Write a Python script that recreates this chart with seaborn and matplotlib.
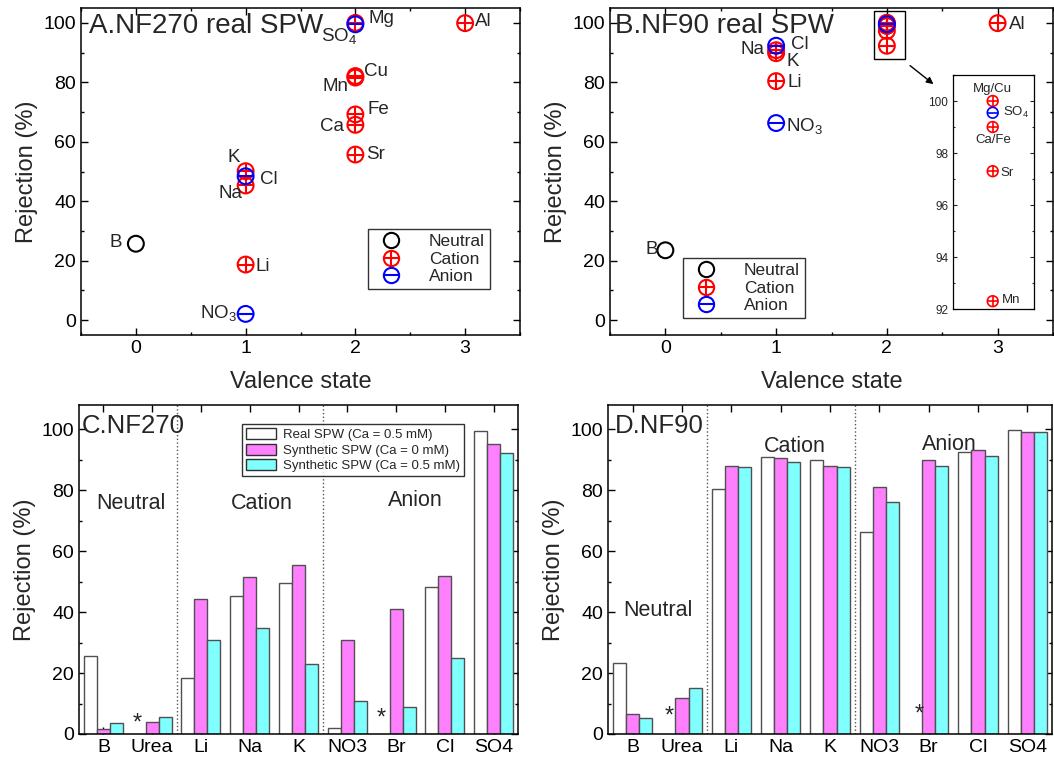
import matplotlib
matplotlib.use('Agg')
import matplotlib.pyplot as plt
import seaborn as sns
import numpy as np
import pandas as pd
from matplotlib.lines import Line2D
from matplotlib.patches import Patch, Rectangle
from matplotlib.ticker import MultipleLocator
import warnings

warnings.filterwarnings("ignore")

# ---- scatter data (panel A: NF270, panel B: NF90) ----
ions_a = ['B', 'Li', 'Na', 'K', 'Cl', 'NO3', 'Mg', 'SO4', 'Cu', 'Mn', 'Fe', 'Ca', 'Sr', 'Al']
valence_a = [0, 1, 1, 1, 1, 1, 2, 2, 2, 2, 2, 2, 2, 3]
rej_a = [25.7, 18.7, 45.3, 50.1, 48.4, 2.1, 100.0, 99.5, 82.1, 81.6, 69.2, 65.7, 55.7, 99.9]
type_a = ['Neutral', 'Cation', 'Cation', 'Cation', 'Anion', 'Anion', 'Cation', 'Anion',
          'Cation', 'Cation', 'Cation', 'Cation', 'Cation', 'Cation']

ions_b = ['B', 'Li', 'Na', 'K', 'Cl', 'NO3', 'Mg', 'Cu', 'SO4', 'Ca', 'Fe', 'Sr', 'Mn', 'Al']
valence_b = [0, 1, 1, 1, 1, 1, 2, 2, 2, 2, 2, 2, 2, 3]
rej_b = [23.5, 80.4, 90.8, 89.8, 92.3, 66.3, 100.0, 100.0, 99.55, 99.0, 99.0, 97.3, 92.3, 99.9]
type_b = ['Neutral', 'Cation', 'Cation', 'Cation', 'Anion', 'Anion', 'Cation', 'Cation',
          'Anion', 'Cation', 'Cation', 'Cation', 'Cation', 'Cation']

# ---- bar data (panel C: NF270, panel D: NF90) ----
ions_bar = ['B', 'Urea', 'Li', 'Na', 'K', 'NO3', 'Br', 'Cl', 'SO4']
series = ['Real SPW (Ca = 0.5 mM)', 'Synthetic SPW (Ca = 0 mM)', 'Synthetic SPW (Ca = 0.5 mM)']
c_real = [25.5, np.nan, 18.5, 45.4, 49.7, 1.9, np.nan, 48.1, 99.5]
c_syn0 = [1.6, 4.1, 44.3, 51.4, 55.5, 30.9, 40.9, 52.0, 95.2]
c_syn05 = [3.5, 5.5, 31.0, 34.7, 23.0, 10.8, 8.9, 24.9, 92.1]
d_real = [23.4, np.nan, 80.4, 90.9, 89.8, 66.3, np.nan, 92.5, 99.7]
d_syn0 = [6.6, 11.9, 88.0, 90.5, 87.9, 81.0, 90.1, 93.1, 99.1]
d_syn05 = [5.2, 15.2, 87.7, 89.3, 87.7, 76.0, 88.0, 91.1, 99.1]

colors = {'Neutral': 'black', 'Cation': '#ff0000', 'Anion': '#0000ff'}
overlay = {'Neutral': None, 'Cation': '+', 'Anion': '_'}
bar_colors = ['#ffffff', '#ff80ff', '#80ffff']

sns.set_style('ticks')
plt.rcParams['font.family'] = ['Liberation Sans', 'DejaVu Sans']
plt.rcParams['mathtext.fontset'] = 'custom'
plt.rcParams['mathtext.rm'] = 'Liberation Sans'
plt.rcParams['mathtext.default'] = 'regular'
plt.rcParams['axes.linewidth'] = 1.1
plt.rcParams['axes.edgecolor'] = 'black'

W, H = 1054, 763
fig = plt.figure(figsize=(W / 100, H / 100), dpi=100)


def px_axes(l, t, r, b):
    return fig.add_axes([l / W, 1 - b / H, (r - l) / W, (b - t) / H])


def style_ticks(ax, size=14):
    ax.tick_params(which='both', direction='in', top=True, right=True, width=1,
                   labelsize=size, colors='black')
    ax.tick_params(which='major', length=5)
    ax.tick_params(which='minor', length=2.5)


def scatter_panel(ax, val, rej, typ, s=130, lw=1.5):
    df = pd.DataFrame({'valence': val, 'rej': rej, 'type': typ})
    for t in ['Neutral', 'Cation', 'Anion']:
        sub = df[df['type'] == t]
        sns.scatterplot(data=sub, x='valence', y='rej', marker='o', s=s,
                        facecolor='none', edgecolor=colors[t], linewidth=lw, ax=ax, zorder=3)
        if overlay[t]:
            sns.scatterplot(data=sub, x='valence', y='rej', marker=overlay[t], s=s,
                            color=colors[t], linewidth=lw, ax=ax, zorder=3)


def legend_handles(ms=11):
    hs = []
    for t in ['Neutral', 'Cation', 'Anion']:
        circ = Line2D([], [], ls='none', marker='o', ms=ms, mfc='none', mec=colors[t], mew=1.5)
        if overlay[t]:
            cross = Line2D([], [], ls='none', marker=overlay[t], ms=ms, color=colors[t], mew=1.5)
            hs.append((circ, cross))
        else:
            hs.append(circ)
    return hs


# ---------------- Panel A ----------------
axA = px_axes(81, 8, 520, 335)
scatter_panel(axA, valence_a, rej_a, type_a)
axA.set_xlim(-0.5, 3.5)
axA.set_ylim(-5, 105)
axA.xaxis.set_major_locator(MultipleLocator(1))
axA.xaxis.set_minor_locator(MultipleLocator(0.5))
axA.yaxis.set_major_locator(MultipleLocator(20))
axA.yaxis.set_minor_locator(MultipleLocator(10))
style_ticks(axA)
axA.set_xlabel('Valence state', fontsize=17, labelpad=10)
axA.set_ylabel('Rejection (%)', fontsize=17)
axA.text(0.018, 0.945, 'A.NF270 real SPW', transform=axA.transAxes, fontsize=20,
         va='center', ha='left')
lab = dict(fontsize=13.5, va='center')
axA.text(-0.13, 26.2, 'B', ha='right', **lab)
axA.text(1.09, 18.2, 'Li', ha='left', **lab)
axA.text(0.89, 54.6, 'K', ha='center', **lab)
axA.text(1.13, 47.3, 'Cl', ha='left', **lab)
axA.text(0.86, 42.5, 'Na', ha='center', **lab)
axA.text(0.75, 2.5, 'NO$_3$', ha='center', **lab)
axA.text(2.12, 101.5, 'Mg', ha='left', **lab)
axA.text(1.85, 95.5, 'SO$_4$', ha='center', **lab)
axA.text(2.08, 83.7, 'Cu', ha='left', **lab)
axA.text(1.82, 78.7, 'Mn', ha='center', **lab)
axA.text(2.11, 70.9, 'Fe', ha='left', **lab)
axA.text(1.79, 65.0, 'Ca', ha='center', **lab)
axA.text(2.10, 55.7, 'Sr', ha='left', **lab)
axA.text(3.09, 100.6, 'Al', ha='left', **lab)
legA = axA.legend(legend_handles(), ['Neutral', 'Cation', 'Anion'], loc='upper right',
                  bbox_to_anchor=((490 - 81) / 439, (335 - 229) / 327), borderaxespad=0,
                  fontsize=12.5, frameon=True, fancybox=False, edgecolor='black',
                  handletextpad=1.2, labelspacing=0.12, borderpad=0.3)
legA.get_frame().set_linewidth(1)

# ---------------- Panel B ----------------
axB = px_axes(610, 8, 1053, 335)
scatter_panel(axB, valence_b, rej_b, type_b)
axB.set_xlim(-0.5, 3.5)
axB.set_ylim(-5, 105)
axB.xaxis.set_major_locator(MultipleLocator(1))
axB.xaxis.set_minor_locator(MultipleLocator(0.5))
axB.yaxis.set_major_locator(MultipleLocator(20))
axB.yaxis.set_minor_locator(MultipleLocator(10))
style_ticks(axB)
axB.set_xlabel('Valence state', fontsize=17, labelpad=10)
axB.set_ylabel('Rejection (%)', fontsize=17)
axB.text(0.011, 0.945, 'B.NF90 real SPW', transform=axB.transAxes, fontsize=20,
         va='center', ha='left')
axB.text(-0.07, 23.8, 'B', ha='right', **lab)
axB.text(0.79, 91.0, 'Na', ha='center', **lab)
axB.text(1.13, 92.8, 'Cl', ha='left', **lab)
axB.text(1.09, 87.0, 'K', ha='left', **lab)
axB.text(1.10, 79.8, 'Li', ha='left', **lab)
axB.text(1.09, 65.2, 'NO$_3$', ha='left', **lab)
axB.text(3.10, 99.4, 'Al', ha='left', **lab)
axB.add_patch(Rectangle((1.886, 88.0), 0.274, 15.9, fill=False, lw=1, ec='black', zorder=2))
axB.annotate('', xy=(2.44, 78.8), xytext=(2.19, 86.2),
             arrowprops=dict(arrowstyle='-|>', color='black', lw=1, mutation_scale=10))
legB = axB.legend(legend_handles(), ['Neutral', 'Cation', 'Anion'], loc='upper left',
                  bbox_to_anchor=((683 - 610) / 443, (335 - 258) / 327), borderaxespad=0,
                  fontsize=12.5, frameon=True, fancybox=False, edgecolor='black',
                  handletextpad=1.2, labelspacing=0.12, borderpad=0.3)
legB.get_frame().set_linewidth(1)

# inset zoom of the valence-2 cluster
ins = px_axes(953, 75, 1034, 309)
ins_y = [100.0, 99.55, 99.0, 97.3, 92.3]
ins_t = ['Cation', 'Anion', 'Cation', 'Cation', 'Cation']
scatter_panel(ins, [0.49] * 5, ins_y, ins_t, s=60, lw=1.2)
ins.set_xlim(0, 1)
ins.set_ylim(92, 101)
ins.set_xticks([])
ins.yaxis.set_major_locator(MultipleLocator(2))
ins.yaxis.set_minor_locator(MultipleLocator(1))
ins.tick_params(which='both', direction='in', right=True, left=True, labelsize=8.5, width=0.8)
ins.tick_params(which='major', length=3)
ins.tick_params(which='minor', length=1.5)
ins.set_xlabel('')
ins.set_ylabel('')
for sp in ins.spines.values():
    sp.set_linewidth(0.9)
sm = dict(fontsize=9.5, va='center')
ins.text(0.49, 100.48, 'Mg/Cu', ha='center', **sm)
ins.text(0.62, 99.55, 'SO$_4$', ha='left', **sm)
ins.text(0.50, 98.5, 'Ca/Fe', ha='center', **sm)
ins.text(0.59, 97.24, 'Sr', ha='left', **sm)
ins.text(0.60, 92.34, 'Mn', ha='left', **sm)


# ---------------- Panels C and D ----------------
def bar_panel(ax, real, syn0, syn05):
    df = pd.DataFrame({
        'ion': ions_bar * 3,
        'series': [series[0]] * 9 + [series[1]] * 9 + [series[2]] * 9,
        'value': list(real) + list(syn0) + list(syn05),
    }).dropna()
    sns.barplot(data=df, x='ion', y='value', hue='series', order=ions_bar, hue_order=series,
                palette=bar_colors, saturation=1, edgecolor='#505050', linewidth=1,
                errorbar=None, width=0.8, legend=False, ax=ax, zorder=2)
    ax.set_xlim(-0.5, 8.5)
    ax.set_ylim(0, 108)
    ax.yaxis.set_major_locator(MultipleLocator(20))
    ax.yaxis.set_minor_locator(MultipleLocator(10))
    style_ticks(ax)
    ax.tick_params(axis='x', which='minor', top=False, bottom=False)
    ax.set_xlabel('')
    ax.set_ylabel('Rejection (%)', fontsize=17)
    for xv in (1.5, 4.5):
        ax.axvline(xv, ls=':', color='#555555', lw=1, zorder=1)


axC = px_axes(79, 405, 518, 734)
bar_panel(axC, c_real, c_syn0, c_syn05)
axC.text(0.007, 0.935, 'C.NF270', transform=axC.transAxes, fontsize=18.5, va='center')
big = dict(fontsize=15.5, ha='center', va='center')
axC.text(0.56, 75.8, 'Neutral', **big)
axC.text(3.25, 75.8, 'Cation', **big)
axC.text(6.4, 76.6, 'Anion', **big)
axC.text(0.69, 3.6, '*', fontsize=17, ha='center', va='center')
axC.text(5.70, 5.2, '*', fontsize=17, ha='center', va='center')
patches = [Patch(facecolor=c, edgecolor='#303030', lw=1) for c in bar_colors]
legC = axC.legend(patches, series, loc='upper right',
                  bbox_to_anchor=((464 - 79) / 439, (734 - 424) / 329), borderaxespad=0,
                  fontsize=9.5, frameon=True, fancybox=False, edgecolor='black',
                  handlelength=2.3, handleheight=0.9, handletextpad=0.5,
                  labelspacing=0.2, borderpad=0.3)
legC.get_frame().set_linewidth(1)

axD = px_axes(608, 405, 1052, 734)
bar_panel(axD, d_real, d_syn0, d_syn05)
axD.text(0.016, 0.935, 'D.NF90', transform=axD.transAxes, fontsize=18.5, va='center')
axD.text(0.52, 40.7, 'Neutral', **big)
axD.text(3.28, 94.5, 'Cation', **big)
axD.text(6.42, 95.0, 'Anion', **big)
axD.text(0.74, 5.8, '*', fontsize=17, ha='center', va='center')
axD.text(5.80, 6.3, '*', fontsize=17, ha='center', va='center')

fig.savefig('out.png', dpi=100)
